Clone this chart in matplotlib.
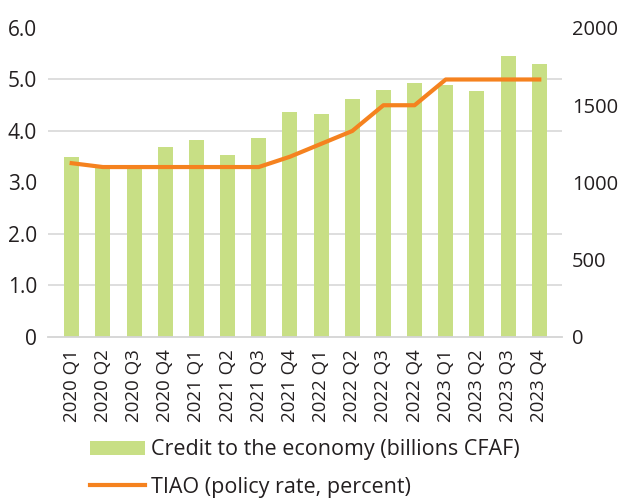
import matplotlib
matplotlib.use('Agg')
import matplotlib.pyplot as plt
import numpy as np

quarters = ['2020 Q1', '2020 Q2', '2020 Q3', '2020 Q4',
            '2021 Q1', '2021 Q2', '2021 Q3', '2021 Q4',
            '2022 Q1', '2022 Q2', '2022 Q3', '2022 Q4',
            '2023 Q1', '2023 Q2', '2023 Q3', '2023 Q4']
credit = [1165, 1105, 1092, 1230, 1275, 1178, 1288, 1456,
          1443, 1540, 1599, 1644, 1631, 1592, 1819, 1767]
tiao = [3.375, 3.3, 3.3, 3.3, 3.3, 3.3, 3.3, 3.5,
        3.75, 4.0, 4.5, 4.5, 5.0, 5.0, 5.0, 5.0]

plt.rcParams['font.family'] = ['Open Sans', 'DejaVu Sans']
green = '#c8df85'
orange = '#f5821f'
grid_col = '#d4d4d4'
text_col = '#231f20'

fig = plt.figure(figsize=(6.2, 4.98), dpi=100)
ax = fig.add_axes([0.0774, 0.3233, 0.8291, 0.6205])
x = np.arange(len(quarters))

# credit bars on the right-hand scale
ax.bar(x, credit, width=0.48, color=green, zorder=2,
       label='Credit to the economy (billions CFAF)')
ax.set_ylim(0, 2000)
ax.set_xlim(-0.76, 15.73)
ax.set_yticks([0, 500, 1000, 1500, 2000])
ax.set_yticks(np.linspace(0, 2000, 7), minor=True)
ax.grid(which='minor', axis='y', color=grid_col, lw=1.1, zorder=0)
ax.set_axisbelow(True)
ax.set_xticks(x)
ax.set_xticklabels(quarters, rotation=90)
ax.tick_params(axis='x', length=0, pad=9, labelsize=13.5, colors=text_col)
for s in ['top', 'left', 'right']:
    ax.spines[s].set_visible(False)
ax.spines['bottom'].set_color(grid_col)
ax.spines['bottom'].set_linewidth(1.3)

# policy rate line on the left-hand scale
ax2 = ax.twinx()
ax2.plot(x, tiao, color=orange, lw=3, zorder=3,
         label='TIAO (policy rate, percent)')
ax2.set_ylim(0, 6)
ax2.set_yticks(range(7))
ax2.set_yticklabels(['0'] + ['{:.1f}'.format(v) for v in range(1, 7)])
for s in ax2.spines.values():
    s.set_visible(False)

# swap sides: twinx puts the first axis on the left
ax.yaxis.set_ticks_position('right')
ax.yaxis.set_label_position('right')
ax2.yaxis.set_ticks_position('left')
ax.tick_params(axis='y', which='both', length=0, pad=7, labelsize=14.5,
               colors=text_col, labelright=True, labelleft=False)
ax2.tick_params(axis='y', length=0, pad=8, labelsize=15, colors=text_col,
                labelleft=True, labelright=False)

h1, l1 = ax.get_legend_handles_labels()
h2, l2 = ax2.get_legend_handles_labels()
leg = fig.legend(h1 + h2, l1 + l2, loc='upper left', bbox_to_anchor=(0.131, 0.135),
                 frameon=False, fontsize=15.5, handlelength=2.55, handleheight=0.65,
                 handletextpad=0.3, labelspacing=0.75, borderaxespad=0)
for t in leg.get_texts():
    t.set_color(text_col)

fig.savefig('out.png', dpi=100)
